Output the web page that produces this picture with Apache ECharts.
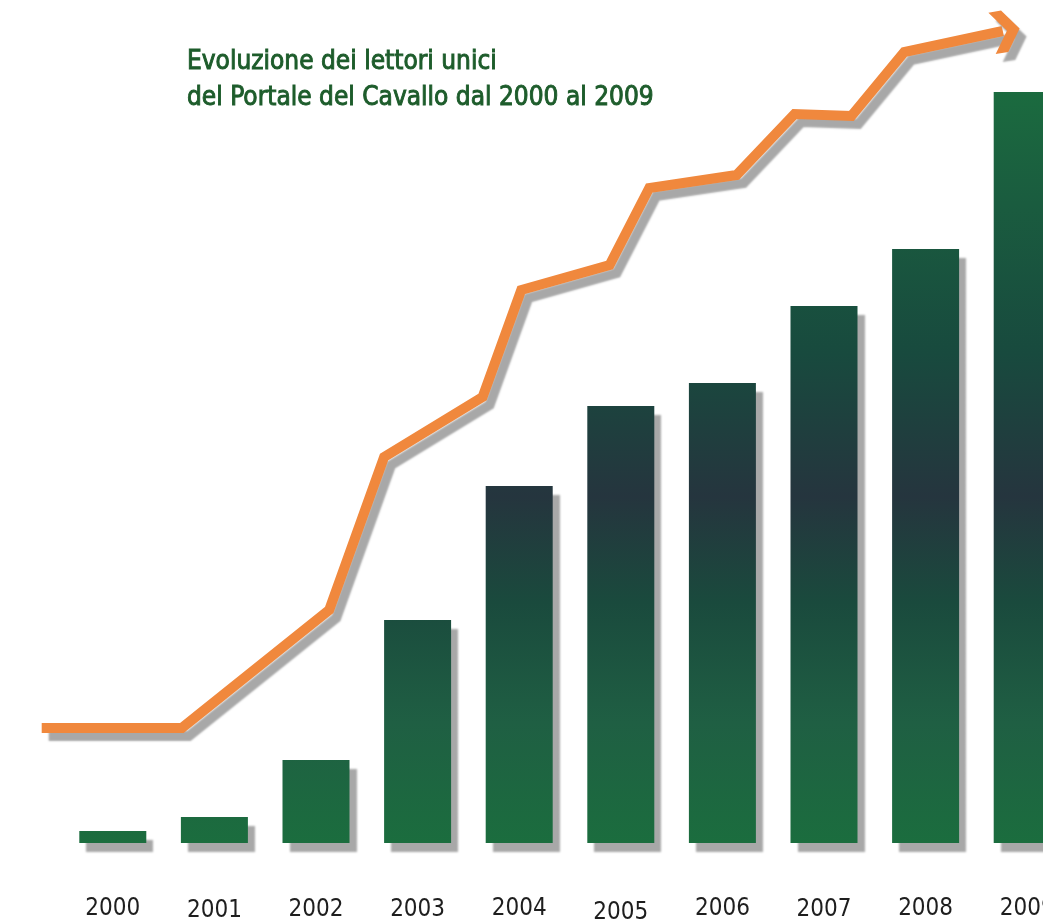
<!DOCTYPE html>
<html>
<head>
<meta charset="utf-8">
<script src="https://cdn.jsdelivr.net/npm/echarts@6/dist/echarts.min.js"></script>
<style>
  html, body { margin: 0; padding: 0; background: #fff; }
  #chart { width: 1043px; height: 921px; }
</style>
</head>
<body>
<div id="chart"></div>
<script>
// anni
const years = ['2000', '2001', '2002', '2003', '2004', '2005', '2006', '2007', '2008', '2009']
// lettori unici (scala relativa)
const readers = [12, 26, 83, 223, 357, 437, 460, 537, 594, 751]
// andamento della freccia: [anno, valore]
const trendX = [1999.3, 2000.68, 2002.13, 2002.67, 2003.64, 2004.02, 2004.89, 2005.28, 2006.14, 2006.71, 2007.27, 2007.79, 2008.76]
const trendY = [115, 115, 233, 386, 446, 553, 578, 655, 668, 729, 727, 791, 812]
// piccolo scarto verticale delle etichette nell'originale
const labelShift = [0, 2, 1, 1, 0, 4, 0, 1, 0, 0]

const chevron = 'path://M0,0 L11,0 L24,17 L11,34 L0,34 L13,17 Z'

const trendData = trendX.map((x, i) => {
  const item = { value: [x, trendY[i]] }
  if (i === trendX.length - 1) {
    item.symbol = chevron
    item.symbolSize = [28, 42]
    item.symbolRotate = 10
    item.symbolOffset = [3, 0]
  }
  return item
})

const barGradient = {
  type: 'linear', x: 0, y: 90, x2: 0, y2: 843, global: true,
  colorStops: [
    { offset: 0, color: '#1b6b3f' },
    { offset: 0.15, color: '#1a5c3f' },
    { offset: 0.35, color: '#184a3e' },
    { offset: 0.54, color: '#25353e' },
    { offset: 0.68, color: '#1a4a3d' },
    { offset: 0.84, color: '#1f5f43' },
    { offset: 1, color: '#1b6d3e' }
  ]
}

const font = '"DejaVu Sans Condensed", "Liberation Sans", sans-serif'
const shadow = { shadowColor: '#a8a8a8', shadowOffsetX: 7, shadowOffsetY: 8, shadowBlur: 2 }

const chart = echarts.init(document.getElementById('chart'))
chart.setOption({
  animation: false,
  title: {
    text: 'Evoluzione dei lettori unici\ndel Portale del Cavallo dal 2000 al 2009',
    left: 182,
    top: 39,
    textStyle: {
      fontFamily: font,
      fontSize: 26,
      fontWeight: 'normal',
      lineHeight: 36,
      color: '#1d5c2b',
      textBorderColor: '#1d5c2b',
      textBorderWidth: 0.9
    }
  },
  grid: [
    { left: 62, width: 1016, top: 0, bottom: 78, outerBoundsMode: 'none' },
    // stessa scala, partendo dal 1999.3 per la coda della freccia
    { left: 41.7, width: 1036.3, top: 0, bottom: 78, outerBoundsMode: 'none' }
  ],
  xAxis: [
    {
      type: 'category',
      gridIndex: 0,
      data: years.map((y, i) => ({ value: y, textStyle: { padding: [labelShift[i], 0, 0, 0] } })),
      axisLine: { show: false },
      axisTick: { show: false },
      axisLabel: {
        margin: 54,
        fontSize: 24,
        color: '#1e1e1e',
        fontFamily: font
      }
    },
    { type: 'value', gridIndex: 1, min: 1999.3, max: 2009.5, show: false }
  ],
  yAxis: [
    { type: 'value', gridIndex: 0, min: 0, max: 843, show: false },
    { type: 'value', gridIndex: 1, min: 0, max: 843, show: false }
  ],
  series: [
    {
      type: 'bar',
      data: readers,
      barWidth: 67,
      itemStyle: Object.assign({ color: barGradient }, shadow, { shadowOffsetY: 9 })
    },
    {
      type: 'line',
      xAxisIndex: 1,
      yAxisIndex: 1,
      data: trendData,
      symbol: 'none',
      clip: false,
      lineStyle: Object.assign({ color: '#f0883d', width: 10, cap: 'butt', join: 'miter' }, shadow),
      itemStyle: Object.assign({ color: '#f0883d' }, shadow)
    }
  ]
})
</script>
</body>
</html>
